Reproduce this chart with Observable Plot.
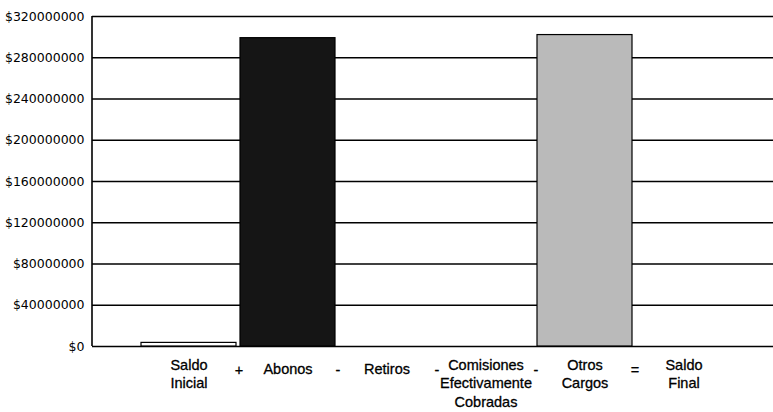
<!DOCTYPE html>
<html>
<head>
<meta charset="utf-8">
<script src="https://cdn.jsdelivr.net/npm/d3@7"></script>
<script src="https://cdn.jsdelivr.net/npm/@observablehq/plot@0.6"></script>
<style>
  html, body { margin: 0; padding: 0; background: #fff; }
  #chart svg { display: block; }
</style>
</head>
<body>
<div id="chart"></div>
<script>
// ---- Data ----
const categories = ["Saldo Inicial", "Abonos", "Retiros", "Comisiones Efectivamente Cobradas", "Otros Cargos", "Saldo Final"];
const labelLines = [["Saldo", "Inicial"], ["Abonos"], ["Retiros"], ["Comisiones", "Efectivamente", "Cobradas"], ["Otros", "Cargos"], ["Saldo", "Final"]];
const values = [3500000, 299000000, 0, 0, 302000000, 0];
const operators = ["+", "-", "-", "-", "="];
const yTicks = [0, 40000000, 80000000, 120000000, 160000000, 200000000, 240000000, 280000000, 320000000];

// ---- Tables built from the arrays ----
const bars = categories.map((c, i) => ({category: c, value: values[i]})).filter(d => d.value > 0);
const labels = categories.map((c, i) => ({category: c, label: labelLines[i].join("\n"), n: labelLines[i].length}));
const ops = operators.map((o, i) => ({category: categories[i], op: o}));

const leftLine = (index, scales, vals, dims) => {
  const l = document.createElementNS("http://www.w3.org/2000/svg", "line");
  l.setAttribute("x1", dims.marginLeft);
  l.setAttribute("x2", dims.marginLeft);
  l.setAttribute("y1", dims.marginTop);
  l.setAttribute("y2", dims.height - dims.marginBottom);
  l.setAttribute("stroke", "#000");
  l.setAttribute("stroke-width", 1.6);
  return l;
};

const labelFont = {fontSize: 14.5, fontFamily: "'Liberation Sans', Arial, sans-serif", fill: "#000", stroke: "#000", strokeWidth: 0.3};

const chart = Plot.plot({
  width: 773,
  height: 412,
  marginTop: 16,
  marginBottom: 66,
  marginLeft: 92,
  marginRight: 0,
  style: {background: "#fff", color: "#000"},
  x: {domain: categories, range: [135.5, 737], padding: 0.045, axis: null},
  y: {domain: [0, 320000000], axis: null},
  color: {domain: categories, range: ["#ffffff", "#151515", "#ffffff", "#ffffff", "#bababa", "#ffffff"]},
  marks: [
    Plot.ruleY(yTicks, {stroke: "#000", strokeWidth: 1.6}),
    leftLine,
    Plot.barY(bars, {x: "category", y: "value", fill: "category", stroke: "#000", strokeWidth: 1.2}),
    Plot.axisY(yTicks, {
      label: null,
      tickSize: 0, tickPadding: 8,
      tickFormat: d => "$" + d3.format("d")(d),
      fontSize: 12.5, fontFamily: "'DejaVu Sans', sans-serif"
    }),
    Plot.text(labels.filter(d => d.n > 1), {
      x: "category", text: "label", frameAnchor: "bottom",
      lineAnchor: "top", dy: 11, lineHeight: 1.25, ...labelFont
    }),
    Plot.text(labels.filter(d => d.n === 1), {
      x: "category", text: "label", frameAnchor: "bottom",
      lineAnchor: "middle", dy: 23, ...labelFont
    }),
    Plot.text(ops, {
      x: "category", text: "op", frameAnchor: "bottom",
      lineAnchor: "middle", dy: 24, dx: 50, ...labelFont
    })
  ]
});

document.getElementById("chart").appendChild(chart);
</script>
</body>
</html>
